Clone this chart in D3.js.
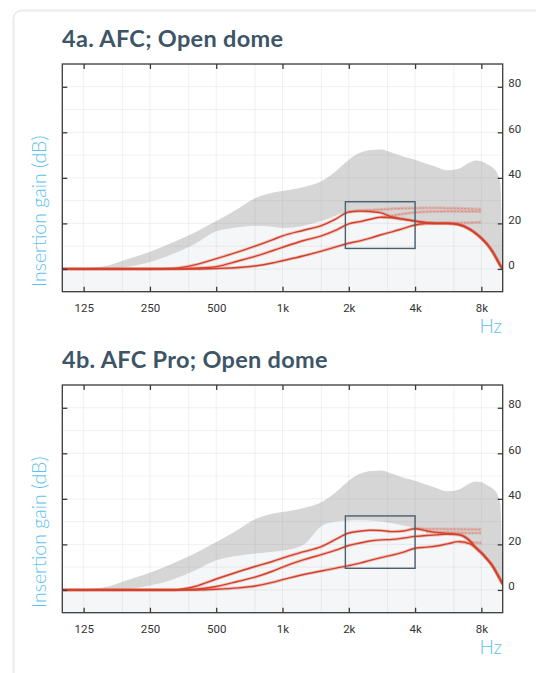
<!DOCTYPE html>
<html>
<head>
<meta charset="utf-8">
<script src="https://cdn.jsdelivr.net/npm/d3@7"></script>
<style>
  html, body { margin: 0; padding: 0; background: #fff; }
  svg { display: block; }
</style>
</head>
<body>
<svg id="chart" width="536" height="673"></svg>
<script>
// ---------- DATA ----------
const freqs = [100,150,200,250,315,400,500,630,750,900,1000,1250,1500,1750,2000,2250,2500,2800,3150,3550,4000,4500,5000,5600,6300,7100,7500,8000,8500,9000,9500,9750,10000];

const xTickValues = [125, 250, 500, 1000, 2000, 4000, 8000];
const xTickLabels = ["125", "250", "500", "1k", "2k", "4k", "8k"];
const xGridValues = [125, 187.5, 250, 375, 500, 750, 1000, 1500, 2000, 3000, 4000, 6000, 8000];
const yTickValues = [0, 20, 40, 60, 80];
const yGridValues = [-10, 0, 10, 20, 30, 40, 50, 60, 70, 80, 90];

// upper edge of grey range (same in both panels)
const rangeUpper = [0,1,4.5,7.5,11.5,16,21,26.5,31,33.5,34.2,36,38.5,43,48,51,52.2,52.5,51,49.3,48,46.2,44.8,43.3,44,46.8,47.6,47.3,46,44.5,41.5,38,0];

// 4a
const lightTop4a = [0,0,1,3,6.5,11,16.5,18.3,19,18.5,18,19,21,23.5,25.3,25.6,25.5,24.8,23,21.8,21,20.3,20,20,19.5,17.4,15.8,13.5,10.8,7.5,3.5,1.5,0];
const gainTop4a  = [0,0,0,0,0.2,1.8,4.5,7.5,10,12.8,14.5,17,19,22,25,25.4,25.2,24.6,22.8,21.8,21,20.3,20,20,19.5,17.4,15.8,13.5,10.8,7.5,3.5,1.5,0];
const gainMid4a  = [0,0,0,0,0,0.3,1,3.5,5.5,8,9.5,12.5,14.5,17,19.8,20.8,21.8,22.7,22.5,21.8,21,20.3,20,20,19.5,17.4,15.8,13.5,10.8,7.5,3.5,1.5,0];
const gainLow4a  = [0,0,0,0,0,0,0.2,0.6,1.3,2.6,3.6,5.8,7.8,9.7,11.3,12.3,13.5,15,16.3,17.8,19.3,20,20,20,19.5,17.4,15.8,13.5,10.8,7.5,3.5,1.5,0];
const targetTop4a = [null,null,null,null,null,null,null,null,null,null,null,null,null,null,25,25.5,25.8,26.1,26.4,26.6,26.7,26.8,26.8,26.7,26.6,26.4,26.3,26.2,null,null,null,null,null];
const targetMid4a = [null,null,null,null,null,null,null,null,null,null,null,null,null,null,null,null,null,22.7,23.4,24.2,24.8,25.1,25.2,25.3,25.3,25.2,25.2,25.1,null,null,null,null,null];
const targetLow4a = [null,null,null,null,null,null,null,null,null,null,null,null,null,null,null,null,null,null,null,null,19.3,19.8,20,20.1,20.2,20.3,20.4,20.5,null,null,null,null,null];
const box4aFreq = [1930, 4000];
const box4aGain = [9, 29.5];

// 4b
const lightTop4b = [0,0,0.5,2,4.5,8.5,13,15,16,16.8,17.3,20,28,30,30.5,30.6,30.5,30,29.3,28.3,27.2,26.5,26,25.3,24.5,21.8,19.5,16.8,14,11,7,5,2.5];
const gainTop4b  = [0,0,0,0,0,1.5,4.8,8,10.3,12.5,14,16.8,19,22.3,25,25.8,26.2,26.1,25.6,25.9,26.9,26,25.3,24.8,24.3,21.5,18.8,16.3,13.5,10.5,6.5,4.5,2.5];
const gainMid4b  = [0,0,0,0,0,0.3,1.5,3.8,5.6,8.2,10,13.3,15.5,17.5,19.5,20.6,21.5,22,22.2,22.8,23.5,23.9,24.2,24.5,24.3,21.5,18.8,16.3,13.5,10.5,6.5,4.5,2.5];
const gainLow4b  = [0,0,0,0,0,0,0.3,0.9,1.7,3.3,4.5,6.8,8.3,9.6,10.7,11.8,13,14.2,15.3,16.6,18.3,18.8,19.3,20.2,21.2,20.2,18.8,16.3,13.5,10.5,6.5,4.5,2.5];
const targetTop4b = [null,null,null,null,null,null,null,null,null,null,null,null,null,null,null,null,null,null,null,null,26.9,26.8,26.8,26.7,26.7,26.6,26.6,26.5,null,null,null,null,null];
const targetMid4b = [null,null,null,null,null,null,null,null,null,null,null,null,null,null,null,null,null,null,null,null,null,25.5,25.3,25.2,25.1,25,25,25,null,null,null,null,null];
const targetLow4b = [null,null,null,null,null,null,null,null,null,null,null,null,null,null,null,null,null,null,null,null,null,null,null,null,21.2,20.8,20.7,20.6,null,null,null,null,null];
const box4bFreq = [1930, 4000];
const box4bGain = [9.5, 32.5];

const titles = ["4a. AFC; Open dome", "4b. AFC Pro; Open dome"];
const yAxisTitle = "Insertion gain (dB)";
const xAxisTitle = "Hz";

// ---------- DRAW ----------
const svg = d3.select("#chart");

// card
svg.append("rect")
  .attr("x", 13.5).attr("y", 10.5)
  .attr("width", 560).attr("height", 720)
  .attr("rx", 8).attr("ry", 8)
  .attr("fill", "#fff")
  .attr("stroke", "#ebebeb").attr("stroke-width", 2);

const panels = [
  { title: titles[0], offset: 0, lightTop: lightTop4a, series: [gainTop4a, gainMid4a, gainLow4a],
    targets: [targetTop4a, targetMid4a, targetLow4a], boxF: box4aFreq, boxG: box4aGain },
  { title: titles[1], offset: 321, lightTop: lightTop4b, series: [gainTop4b, gainMid4b, gainLow4b],
    targets: [targetTop4b, targetMid4b, targetLow4b], boxF: box4bFreq, boxG: box4bGain }
];

const plotL = 62.3, plotR = 502.7, plotT = 64, plotB = 291.7;

panels.forEach((p, pi) => {
  const g = svg.append("g").attr("transform", `translate(0,${p.offset})`);
  const x = d3.scaleLog().domain([100, 10000]).range([plotL, plotR]);
  const y = d3.scaleLinear().domain([-10, 90]).range([plotB, plotT]);

  // title
  g.append("text")
    .attr("x", 62).attr("y", 47)
    .attr("font-family", "Lato, 'Noto Sans', sans-serif")
    .attr("font-weight", 700).attr("font-size", 23.5)
    .attr("letter-spacing", 0.3)
    .attr("fill", "#3d5566")
    .text(p.title);

  const clipId = "clip" + pi;
  g.append("clipPath").attr("id", clipId)
    .append("rect").attr("x", plotL).attr("y", plotT)
    .attr("width", plotR - plotL).attr("height", plotB - plotT);

  const plot = g.append("g").attr("clip-path", `url(#${clipId})`);

  plot.append("rect").attr("x", plotL).attr("y", plotT)
    .attr("width", plotR - plotL).attr("height", plotB - plotT).attr("fill", "#fff");

  // grey range area
  const upperArea = d3.area()
    .x((d, i) => x(freqs[i]))
    .y0(y(-10))
    .y1(d => y(d))
    .curve(d3.curveMonotoneX);
  plot.append("path").datum(rangeUpper).attr("d", upperArea).attr("fill", "#d6d6d7");

  // light region
  plot.append("path").datum(p.lightTop).attr("d", upperArea).attr("fill", "#f4f6f7");

  // grid
  plot.selectAll(".vg").data(xGridValues).enter().append("line")
    .attr("x1", d => x(d)).attr("x2", d => x(d))
    .attr("y1", plotT).attr("y2", plotB)
    .attr("stroke", "rgba(150,150,160,0.13)").attr("stroke-width", 1);
  plot.selectAll(".hg").data(yGridValues).enter().append("line")
    .attr("x1", plotL).attr("x2", plotR)
    .attr("y1", d => y(d)).attr("y2", d => y(d))
    .attr("stroke", "rgba(150,150,160,0.13)").attr("stroke-width", 1);

  // target (dotted) lines
  p.targets.forEach(t => {
    const pts = t.map((v, i) => v === null ? null : [freqs[i], v]).filter(d => d);
    const l = d3.line().x(d => x(d[0])).y(d => y(d[1])).curve(d3.curveMonotoneX);
    plot.append("path").datum(pts).attr("d", l)
      .attr("fill", "none").attr("stroke", "rgba(222,110,90,0.28)").attr("stroke-width", 3);
    plot.append("path").datum(pts).attr("d", l)
      .attr("fill", "none").attr("stroke", "rgba(215,80,60,0.45)")
      .attr("stroke-width", 1).attr("stroke-dasharray", "2,1.5");
  });

  // gain curves
  const line = d3.line()
    .x((d, i) => x(freqs[i]))
    .y(d => y(d))
    .curve(d3.curveMonotoneX);
  p.series.forEach(s => {
    plot.append("path").datum(s).attr("d", line)
      .attr("fill", "none").attr("stroke", "rgba(220,80,60,0.3)").attr("stroke-width", 3.2);
    plot.append("path").datum(s).attr("d", line)
      .attr("fill", "none").attr("stroke", "#d3402a").attr("stroke-width", 1.4);
  });

  // box
  g.append("rect")
    .attr("x", x(p.boxF[0])).attr("y", y(p.boxG[1]))
    .attr("width", x(p.boxF[1]) - x(p.boxF[0]))
    .attr("height", y(p.boxG[0]) - y(p.boxG[1]))
    .attr("fill", "none").attr("stroke", "#4a5f6b").attr("stroke-width", 1.4);

  // frame
  g.append("rect").attr("x", plotL).attr("y", plotT)
    .attr("width", plotR - plotL).attr("height", plotB - plotT)
    .attr("fill", "none").attr("stroke", "#3a3a3a").attr("stroke-width", 1.3);

  // axes (inward ticks)
  const fmtX = d => xTickLabels[xTickValues.indexOf(d)];
  const bottom = g.append("g").attr("transform", `translate(0,${plotB})`)
    .call(d3.axisBottom(x).tickValues(xTickValues).tickFormat(fmtX).tickSizeInner(-5).tickSizeOuter(0).tickPadding(12));
  const top = g.append("g").attr("transform", `translate(0,${plotT})`)
    .call(d3.axisTop(x).tickValues(xTickValues).tickFormat("").tickSizeInner(-5).tickSizeOuter(0));
  const left = g.append("g").attr("transform", `translate(${plotL},0)`)
    .call(d3.axisLeft(y).tickValues(yTickValues).tickFormat("").tickSizeInner(-5).tickSizeOuter(0));
  const right = g.append("g").attr("transform", `translate(${plotR},0)`)
    .call(d3.axisRight(y).tickValues(yTickValues).tickSizeInner(-5).tickSizeOuter(0).tickPadding(9));

  [bottom, top, left, right].forEach(a => {
    a.select(".domain").remove();
    a.selectAll(".tick line").attr("stroke", "#3a3a3a").attr("stroke-width", 1.3);
    a.selectAll("text").attr("font-family", "Roboto, sans-serif").attr("font-size", 11.5).attr("fill", "#333");
  });
  right.selectAll("text").attr("dy", "0em").attr("x", 5.5);

  // axis titles
  g.append("text")
    .attr("transform", `translate(45.5,287) rotate(-90)`)
    .attr("text-anchor", "start")
    .attr("font-family", "Lato, 'Noto Sans', sans-serif")
    .attr("font-weight", 300).attr("font-size", 19.5)
    .attr("fill", "#5bc2ee")
    .text(yAxisTitle);

  g.append("text")
    .attr("x", 502).attr("y", 333)
    .attr("text-anchor", "end")
    .attr("font-family", "Lato, 'Noto Sans', sans-serif")
    .attr("font-weight", 300).attr("font-size", 19)
    .attr("fill", "#5bc2ee")
    .text(xAxisTitle);
});
</script>
</body>
</html>
